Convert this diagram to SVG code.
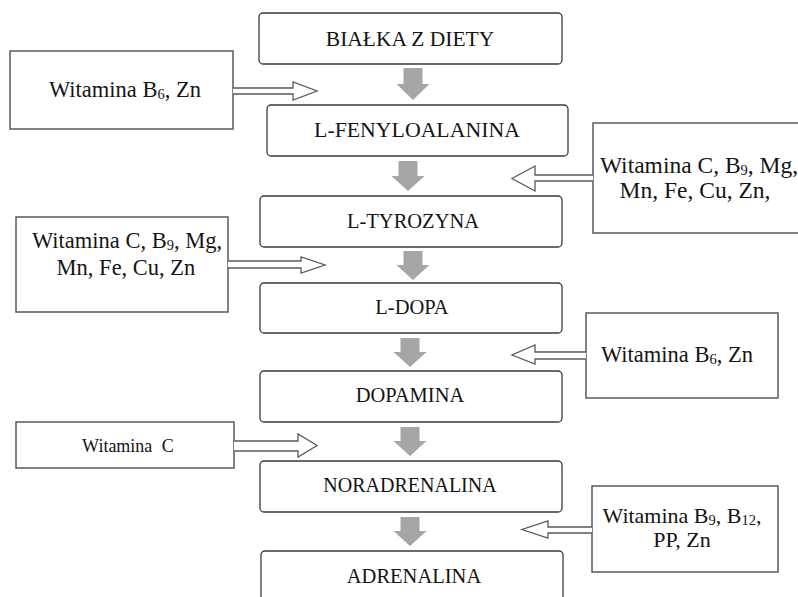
<svg xmlns="http://www.w3.org/2000/svg" width="798" height="597" viewBox="0 0 798 597">
  <style>
    .main rect { fill: #ffffff; stroke: #3a3a3a; stroke-width: 1.3; }
    .side rect { fill: #ffffff; stroke: #5a5a5a; stroke-width: 1.5; }
    text { font-family: 'Liberation Serif', 'Times New Roman', serif; fill: #141414; }
    .mt { font-size: 20.5px; text-anchor: middle; }
    .st { font-size: 22.5px; text-anchor: middle; }
    .sub { font-size: 14.5px; }
    .gray { fill: #a6a6a6; stroke: none; }
    .hollow { fill: #ffffff; stroke: #5a5a5a; stroke-width: 1.3; stroke-linejoin: miter; }
  </style>
  <rect width="798" height="597" fill="#ffffff"/>

  <!-- main nodes -->
  <g id="bialka" class="main">
    <rect x="259" y="13" width="303" height="51" rx="4"/>
    <text class="mt" x="410" y="46" style="font-size:21.5px">BIAŁKA Z DIETY</text>
  </g>
  <g id="fenyloalanina" class="main">
    <rect x="267" y="105" width="301" height="51" rx="4"/>
    <text class="mt" x="417" y="137" style="font-size:21.8px">L-FENYLOALANINA</text>
  </g>
  <g id="tyrozyna" class="main">
    <rect x="260" y="196" width="302" height="51" rx="4"/>
    <text class="mt" x="413" y="228">L-TYROZYNA</text>
  </g>
  <g id="dopa" class="main">
    <rect x="260" y="283" width="302" height="50" rx="4"/>
    <text class="mt" x="412" y="314">L-DOPA</text>
  </g>
  <g id="dopamina" class="main">
    <rect x="260" y="371" width="302" height="51" rx="4"/>
    <text class="mt" x="410" y="402">DOPAMINA</text>
  </g>
  <g id="noradrenalina" class="main">
    <rect x="260" y="461" width="302" height="51" rx="4"/>
    <text class="mt" x="410" y="492" style="font-size:20px">NORADRENALINA</text>
  </g>
  <g id="adrenalina" class="main">
    <rect x="261" y="551" width="302" height="60" rx="4"/>
    <text class="mt" x="414" y="583">ADRENALINA</text>
  </g>

  <!-- side nodes -->
  <g id="cof1" class="side">
    <rect x="10" y="51" width="223" height="78"/>
    <text class="st" x="125" y="97">Witamina B<tspan class="sub" dy="2">6</tspan><tspan dy="-2">, Zn</tspan></text>
  </g>
  <g id="cof2" class="side">
    <rect x="593" y="123" width="210" height="110"/>
    <text class="st" x="699" y="173" style="font-size:23.5px">Witamina C, B<tspan class="sub" dy="2">9</tspan><tspan dy="-2">, Mg,</tspan></text>
    <text class="st" x="695" y="198" style="font-size:23.5px">Mn, Fe, Cu, Zn,</text>
  </g>
  <g id="cof3" class="side">
    <rect x="16" y="217" width="212" height="95"/>
    <text class="st" x="127" y="248">Witamina C, B<tspan class="sub" dy="2">9</tspan><tspan dy="-2">, Mg,</tspan></text>
    <text class="st" x="126" y="275">Mn, Fe, Cu, Zn</text>
  </g>
  <g id="cof4" class="side">
    <rect x="586" y="313" width="192" height="85"/>
    <text class="st" x="677" y="362">Witamina B<tspan class="sub" dy="2">6</tspan><tspan dy="-2">, Zn</tspan></text>
  </g>
  <g id="cof5" class="side">
    <rect x="16" y="422" width="218" height="46"/>
    <text x="128" y="452" style="font-size:18px;text-anchor:middle;word-spacing:5px">Witamina C</text>
  </g>
  <g id="cof6" class="side">
    <rect x="592" y="486" width="186" height="86"/>
    <text class="st" x="682" y="523" style="font-size:22px">Witamina B<tspan class="sub" dy="2">9</tspan><tspan dy="-2">, B</tspan><tspan class="sub" dy="2">12</tspan><tspan dy="-2">,</tspan></text>
    <text class="st" x="682" y="547" style="font-size:22px">PP, Zn</text>
  </g>

  <!-- connectors -->
  <g id="connectors">
    <path class="gray" d="M403.5,68 H422.5 V84 H429.5 L413,100 L396.5,84 H403.5 Z"/>
    <path class="gray" d="M398.5,161 H417.5 V176 H424.5 L408,191 L391.5,176 H398.5 Z"/>
    <path class="gray" d="M403.5,251 H422.5 V265 H429.5 L413,280 L396.5,265 H403.5 Z"/>
    <path class="gray" d="M400.5,338 H419.5 V352 H426.5 L410,367 L393.5,352 H400.5 Z"/>
    <path class="gray" d="M400.5,427 H419.5 V441 H426.5 L410,456 L393.5,441 H400.5 Z"/>
    <path class="gray" d="M400.5,517 H419.5 V531 H426.5 L410,546 L393.5,531 H400.5 Z"/>

    <path class="hollow" d="M233,88 H293 V82 L317,91 L293,100 V94 H233"/>
    <path class="hollow" d="M593,175 H535 V166 L512,178.5 L535,191 V181 H593"/>
    <path class="hollow" d="M228,261 H301 V257 L325,265 L301,273 V268 H228"/>
    <path class="hollow" d="M586,352 H535 V345 L512,355 L535,364 V359 H586"/>
    <path class="hollow" d="M234,441 H298 V434 L317,445.5 L298,457 V451 H234"/>
    <path class="hollow" d="M592,527 H548 V521 L522,529.5 L548,538 V533 H592"/>
  </g>
</svg>
